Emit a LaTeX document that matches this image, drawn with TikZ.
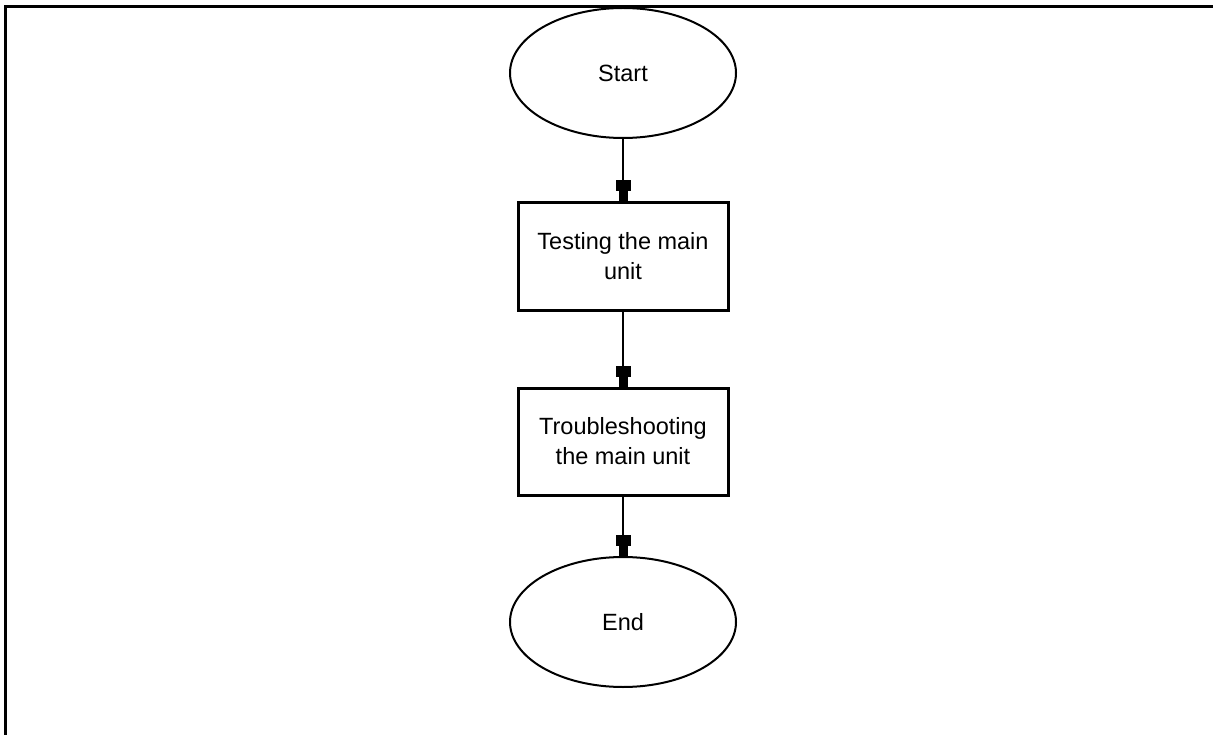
\documentclass[tikz,border=0pt]{standalone}
\usepackage{fontspec}
\setmainfont{Liberation Sans}
\usetikzlibrary{shapes.geometric,arrows.meta}
\begin{document}
\begin{tikzpicture}[x=1pt,y=-1pt,
  flowtext/.style={font=\fontsize{23.5}{30}\selectfont, align=center, text=black},
  terminal/.style={ellipse, draw, line width=2pt, minimum width=226pt,
    minimum height=130pt, inner sep=0pt, flowtext},
  process/.style={rectangle, draw, line width=3pt, minimum width=210pt,
    minimum height=107pt, inner sep=0pt, flowtext},
  flow/.style={line width=2pt,
    -{Rectangle[length=11pt,width=15pt,sep=0pt,line width=0pt]%
      Rectangle[length=10pt,width=9pt,sep=0pt,line width=0pt]}}]
  % canvas and frame (top and left edges only)
  \useasboundingbox (0,0) rectangle (1215,735);
  \fill[white] (0,0) rectangle (1215,735);
  \draw[line width=3pt] (5.5,735) -- (5.5,6.5) -- (1213,6.5);

  % flowchart nodes
  \node[terminal] (start) at (623,73) {Start};
  \node[process] (test) at (623,256.5) {Testing the main\\unit};
  \node[process] (trouble) at (623,441.5) {Troubleshooting\\the main unit};
  \node[terminal] (end) at (623,622) {End};

  % connectors
  \draw[flow] (start) -- (test);
  \draw[flow] (test) -- (trouble);
  \draw[flow] (trouble) -- (end);
\end{tikzpicture}
\end{document}
